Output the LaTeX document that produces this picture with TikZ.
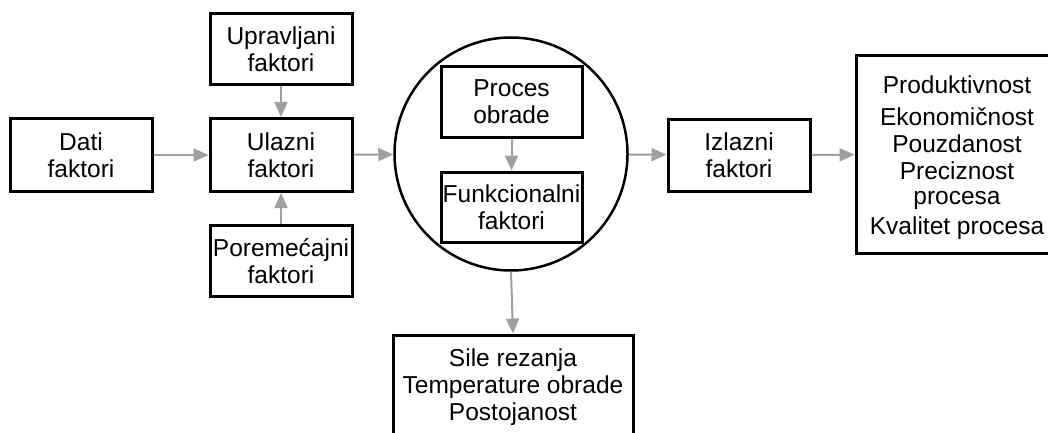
\documentclass[tikz,border=0pt]{standalone}
\usepackage{fontspec}
\setmainfont{Liberation Sans}
\usetikzlibrary{arrows.meta}
\definecolor{arrgrey}{RGB}{160,160,160}
\tikzset{
  fbox/.style={draw=black, line width=3pt, fill=white, inner sep=0pt, align=center,
    font=\fontsize{24.5}{27}\selectfont},
  plain/.style={inner sep=0pt, align=center, font=\fontsize{24.5}{27}\selectfont},
  conn/.style={draw=arrgrey, line width=2pt, -{Triangle[length=15pt,width=13pt]}}
}
\begin{document}
\begin{tikzpicture}[x=1pt,y=-1pt]
\useasboundingbox (0,0) rectangle (1048,433);
\fill[white] (0,0) rectangle (1048,433);
\node[fbox, minimum width=142pt, minimum height=73pt] (dati) at (81,155) {Dati\\faktori};
\node[fbox, minimum width=142pt, minimum height=71pt] (uprav) at (281,49) {Upravljani\\faktori};
\node[fbox, minimum width=142pt, minimum height=73pt] (ulaz) at (281,155) {Ulazni\\faktori};
\node[fbox, minimum width=142pt, minimum height=71pt] (porem) at (281,261) {Poreme\'cajni\\faktori};
\node[circle, draw=black, line width=2.5pt, minimum size=233pt, inner sep=0pt] (krug) at (511,154) {};
\node[fbox, minimum width=141pt, minimum height=70pt] (proces) at (511.5,102) {Proces\\obrade};
\node[fbox, minimum width=141pt, minimum height=70pt] (funk) at (511.5,207) {Funkcionalni\\faktori};
\node[fbox, minimum width=142pt, minimum height=72pt] (izlaz) at (739,155) {Izlazni\\faktori};
\node[fbox, minimum width=193pt, minimum height=197pt] (rez) at (952.5,154.5) {};
\node[plain] (reztext) at (957,158) {Produktivnost\\[5pt]Ekonomičnost\\Pouzdanost\\Preciznost\\[-2pt]procesa\\[3pt]Kvalitet procesa};
\node[fbox, minimum width=240pt, minimum height=105pt] (sile) at (513,387.5) {Sile rezanja\\Temperature obrade\\Postojanost};
\draw[conn] (dati) -- (ulaz);
\draw[conn] (uprav) -- (ulaz);
\draw[conn] (porem) -- (ulaz);
\draw[conn] (ulaz) -- (krug);
\draw[conn] (proces) -- (funk);
\draw[conn] (krug) -- (izlaz);
\draw[conn] (izlaz) -- (rez);
\draw[conn] (krug.south) -- (sile.north);
\end{tikzpicture}
\end{document}
